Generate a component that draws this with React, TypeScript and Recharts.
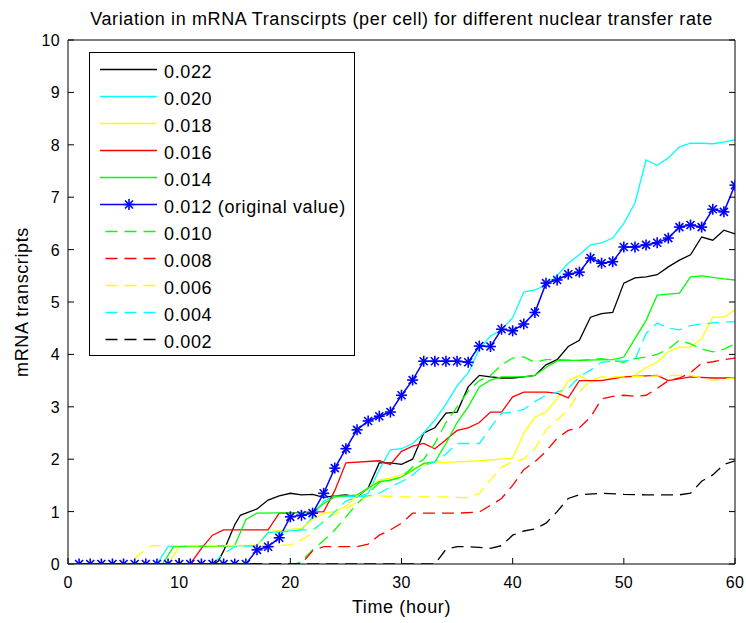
import React from 'react'
import { Legend, Line, LineChart, XAxis, YAxis } from 'recharts'

type Pt = [number, number]

const title = 'Variation in mRNA Transcirpts (per cell) for different nuclear transfer rate'
const xTicks = [0, 10, 20, 30, 40, 50, 60]
const yTicks = [0, 1, 2, 3, 4, 5, 6, 7, 8, 9, 10]

const rate022: Pt[] = [
    [1, 0], [13, 0], [13.5, 0.05], [14, 0.25], [15, 0.75], [15.5, 0.93], [16, 0.97], [17, 1.05],
    [18, 1.22], [19, 1.3], [20, 1.35], [21, 1.32], [22, 1.33], [23, 1.27], [24, 1.3], [25, 1.32],
    [26, 1.28], [27, 1.45], [28, 1.93], [29, 1.93], [30, 1.9], [31, 2.0], [32, 2.5], [33, 2.6],
    [34, 2.88], [35, 2.9], [36, 3.38], [37, 3.6], [38, 3.57], [39, 3.55], [40, 3.55], [41, 3.57],
    [42, 3.6], [43, 3.8], [44, 3.9], [45, 4.15], [46, 4.27], [47, 4.71], [48, 4.78], [49, 4.8],
    [50, 5.36], [51, 5.46], [52, 5.48], [53, 5.52], [54, 5.67], [55, 5.8], [56, 5.9], [57, 6.24],
    [58, 6.18], [59, 6.37], [60, 6.3],
]

const rate020: Pt[] = [
    [1, 0], [8, 0], [9, 0.33], [17, 0.35], [18, 0.6], [21, 0.65], [22, 0.9], [23, 1.2], [24, 1.3],
    [26, 1.28], [27, 1.35], [28, 1.8], [29, 2.18], [30, 2.2], [31, 2.3], [32, 2.5], [33, 2.75],
    [34, 3.05], [35, 3.4], [36, 3.65], [37, 4.1], [38, 4.35], [39, 4.47], [40, 4.7], [41, 5.19],
    [42, 5.23], [43, 5.32], [44, 5.5], [45, 5.74], [46, 5.9], [47, 6.09], [48, 6.13], [49, 6.22],
    [50, 6.5], [51, 6.89], [52, 7.71], [53, 7.61], [54, 7.75], [55, 7.96], [56, 8.03], [57, 8.03],
    [58, 8.02], [59, 8.05], [60, 8.1],
]

const rate018: Pt[] = [
    [1, 0], [9, 0], [10, 0.33], [17, 0.35], [18, 0.62], [21, 0.68], [22, 0.85], [23, 0.97],
    [24, 1.0], [25, 1.1], [26, 1.3], [27, 1.45], [28, 1.6], [29, 1.64], [30, 1.7], [31, 1.8],
    [32, 1.9], [33, 1.93], [35, 1.95], [37, 1.97], [40, 2.02], [41, 2.5], [42, 2.8], [43, 2.9],
    [44, 3.15], [45, 3.5], [46, 3.6], [47, 3.47], [49, 3.55], [51, 3.6], [52, 3.75], [53, 3.85],
    [54, 4.05], [55, 4.14], [56, 4.14], [57, 4.3], [58, 4.71], [59, 4.71], [60, 4.85],
]

const rate016: Pt[] = [
    [1, 0], [11, 0], [12, 0.3], [13, 0.55], [14, 0.65], [18, 0.65], [19, 0.97], [22, 0.99],
    [23, 1.0], [24, 1.4], [25, 1.93], [28, 1.97], [29, 1.9], [30, 2.15], [31, 2.25], [32, 2.3],
    [33, 2.2], [34, 2.37], [35, 2.55], [36, 2.6], [37, 2.7], [38, 2.9], [39, 2.9], [40, 3.19],
    [41, 3.28], [43, 3.28], [44, 3.26], [45, 3.17], [46, 3.5], [48, 3.5], [50, 3.57], [53, 3.6],
    [54, 3.5], [56, 3.57], [58, 3.55], [60, 3.55],
]

const rate014: Pt[] = [
    [1, 0], [8.5, 0], [9.5, 0.33], [15, 0.35], [16, 0.85], [17, 0.97], [21, 0.98], [22, 1.0],
    [23, 1.15], [24, 1.28], [25, 1.3], [26, 1.32], [27, 1.45], [28, 1.57], [29, 1.6], [30, 1.66],
    [31, 1.79], [32, 1.92], [33, 1.95], [34, 2.3], [35, 2.7], [36, 3.0], [37, 3.38], [38, 3.51],
    [39, 3.57], [41, 3.57], [42, 3.6], [43, 3.75], [44, 3.88], [49, 3.9], [50, 3.95], [51, 4.3],
    [52, 4.65], [53, 5.13], [55, 5.17], [56, 5.48], [57, 5.5], [59, 5.44], [60, 5.42],
]

const rate012: Pt[] = [
    [1, 0], [2, 0], [3, 0], [4, 0], [5, 0], [6, 0], [7, 0], [8, 0], [9, 0], [10, 0],
    [11, 0], [12, 0], [13, 0], [14, 0], [15, 0], [16, 0], [17, 0.27], [18, 0.33], [19, 0.5],
    [20, 0.9], [21, 0.93], [22, 0.97], [23, 1.35], [24, 1.83], [25, 2.2], [26, 2.56], [27, 2.73],
    [28, 2.82], [29, 2.9], [30, 3.22], [31, 3.51], [32, 3.87], [33, 3.87], [34, 3.87], [35, 3.87],
    [36, 3.85], [37, 4.16], [38, 4.15], [39, 4.48], [40, 4.45], [41, 4.58], [42, 4.8], [43, 5.36],
    [44, 5.42], [45, 5.53], [46, 5.57], [47, 5.84], [48, 5.74], [49, 5.77], [50, 6.05], [51, 6.05],
    [52, 6.09], [53, 6.13], [54, 6.22], [55, 6.43], [56, 6.47], [57, 6.43], [58, 6.77], [59, 6.72],
    [60, 7.23],
]

const rate010: Pt[] = [
    [1, 0], [20.5, 0], [21, 0.05], [22, 0.27], [23, 0.45], [24, 0.65], [25, 0.9], [26, 1.15],
    [27, 1.35], [28, 1.55], [29, 1.6], [30, 1.65], [31, 1.85], [32, 2.0], [33, 2.3], [34, 2.7],
    [35, 3.0], [36, 3.3], [37, 3.5], [38, 3.6], [39, 3.8], [40, 3.93], [41, 3.95], [42, 3.85],
    [43, 3.9], [44, 3.9], [46, 3.88], [48, 3.92], [50, 3.85], [51, 3.92], [52, 3.95], [53, 4.0],
    [54, 4.1], [55, 4.27], [56, 4.2], [57, 4.1], [58, 4.05], [59, 4.1], [60, 4.2],
]

const rate008: Pt[] = [
    [1, 0], [21, 0], [22, 0.25], [23, 0.33], [26, 0.33], [27, 0.38], [28, 0.55], [29, 0.65],
    [30, 0.78], [31, 0.97], [35, 0.97], [37, 0.99], [38, 1.12], [39, 1.25], [40, 1.5], [41, 1.8],
    [42, 1.95], [43, 2.15], [44, 2.4], [45, 2.55], [46, 2.6], [47, 2.8], [48, 3.15], [49, 3.2],
    [50, 3.22], [51, 3.2], [52, 3.22], [53, 3.35], [54, 3.5], [55, 3.55], [56, 3.65], [57, 3.83],
    [58, 3.86], [59, 3.9], [60, 3.93],
]

const rate006: Pt[] = [
    [1, 0], [5.5, 0], [6.5, 0.2], [7.5, 0.35], [20, 0.36], [21, 0.46], [22, 0.59], [23, 0.84],
    [24, 0.95], [25, 1.05], [26, 1.18], [27, 1.3], [28, 1.3], [30, 1.28], [34, 1.28], [36, 1.26],
    [37, 1.35], [38, 1.6], [39, 1.85], [40, 1.95], [41, 2.0], [42, 2.2], [43, 2.56], [44, 2.75],
    [45, 2.95], [46, 3.28], [47, 3.5], [48, 3.57], [50, 3.57], [52, 3.58], [54, 3.6], [56, 3.6],
    [57, 3.55], [58, 3.51], [60, 3.55],
]

const rate004: Pt[] = [
    [1, 0], [13, 0], [14, 0.2], [15, 0.33], [17, 0.35], [18, 0.6], [20, 0.62], [21, 0.65],
    [22, 0.65], [23, 0.8], [24, 1.0], [25, 1.2], [26, 1.28], [27, 1.3], [28, 1.35], [29, 1.47],
    [30, 1.57], [31, 1.7], [32, 1.88], [33, 1.95], [34, 2.1], [35, 2.3], [36, 2.3], [37, 2.3],
    [38, 2.6], [39, 2.88], [40, 2.9], [41, 2.95], [42, 3.1], [43, 3.22], [44, 3.28], [45, 3.35],
    [46, 3.57], [47, 3.7], [48, 3.85], [49, 3.87], [50, 3.87], [51, 3.9], [52, 4.4], [53, 4.6],
    [54, 4.5], [55, 4.47], [56, 4.55], [57, 4.58], [58, 4.6], [59, 4.62], [60, 4.62],
]

const rate002: Pt[] = [
    [1, 0], [33, 0], [34, 0.28], [35, 0.33], [36, 0.33], [38, 0.3], [39, 0.35], [40, 0.55],
    [41, 0.63], [42, 0.67], [43, 0.78], [44, 1.0], [45, 1.25], [46, 1.32], [48, 1.35], [50, 1.33],
    [52, 1.32], [55, 1.32], [56, 1.35], [57, 1.58], [58, 1.7], [59, 1.9], [60, 1.97],
]

const series = [
    { name: '0.022', points: rate022, color: '#000000', dashed: false, star: false },
    { name: '0.020', points: rate020, color: '#00ffff', dashed: false, star: false },
    { name: '0.018', points: rate018, color: '#ffff00', dashed: false, star: false },
    { name: '0.016', points: rate016, color: '#ff0000', dashed: false, star: false },
    { name: '0.014', points: rate014, color: '#00ff00', dashed: false, star: false },
    { name: '0.012 (original value)', points: rate012, color: '#0000ff', dashed: false, star: true },
    { name: '0.010', points: rate010, color: '#00ff00', dashed: true, star: false },
    { name: '0.008', points: rate008, color: '#ff0000', dashed: true, star: false },
    { name: '0.006', points: rate006, color: '#ffff00', dashed: true, star: false },
    { name: '0.004', points: rate004, color: '#00ffff', dashed: true, star: false },
    { name: '0.002', points: rate002, color: '#000000', dashed: true, star: false },
]

const font = '"Liberation Sans", Arial, Helvetica, sans-serif'
const textStyle = { fontFamily: font, fontSize: 18, letterSpacing: 0.62, fill: '#000' }
const tickStyle = { fontFamily: font, fontSize: 16, letterSpacing: 0.3, fill: '#000' }

const Star = ({ cx, cy, color = '#0000ff' }: any) => {
    if (cx == null || cy == null) return null
    const r = 5.5
    const d = 4
    return (
        <g stroke={color} strokeWidth={1.6}>
            <line x1={cx - r} y1={cy} x2={cx + r} y2={cy} />
            <line x1={cx} y1={cy - r} x2={cx} y2={cy + r} />
            <line x1={cx - d} y1={cy - d} x2={cx + d} y2={cy + d} />
            <line x1={cx - d} y1={cy + d} x2={cx + d} y2={cy - d} />
        </g>
    )
}

const BottomTick = ({ x, y, payload }: any) => (
    <g>
        <line x1={x} y1={y} x2={x} y2={y - 6} stroke="#000" />
        <text x={x} y={y + 24} textAnchor="middle" style={tickStyle}>
            {payload.value}
        </text>
    </g>
)

const TopTick = ({ x, y }: any) => <line x1={x} y1={y} x2={x} y2={y + 6} stroke="#000" />

const LeftTick = ({ x, y, payload }: any) => (
    <g>
        <line x1={x} y1={y} x2={x + 6} y2={y} stroke="#000" />
        <text x={x - 8} y={y + 6} textAnchor="end" style={tickStyle}>
            {payload.value}
        </text>
    </g>
)

const RightTick = ({ x, y }: any) => <line x1={x} y1={y} x2={x - 6} y2={y} stroke="#000" />

const LegendBox = () => (
    <svg width={269} height={306} style={{ display: 'block' }}>
        <rect x={1.5} y={0.5} width={265} height={303} fill="#fff" stroke="#000" />
        {series.map((s, i) => {
            const y = Math.round(17 + i * 27.03) + 0.5
            return (
                <g key={s.name}>
                    <line
                        x1={s.dashed ? 17.5 : 12}
                        x2={69}
                        y1={y}
                        y2={y}
                        stroke={s.color}
                        strokeWidth={1.4}
                        strokeDasharray={s.dashed ? '12 7' : undefined}
                    />
                    {s.star && <Star cx={41} cy={y} />}
                    <text x={76} y={y + 8.5} style={textStyle}>
                        {s.name}
                    </text>
                </g>
            )
        })}
    </svg>
)

export default function App() {
    return (
        <div style={{ position: 'absolute', left: 0, top: 0, background: '#fff' }}>
            <LineChart width={746} height={623} margin={{ top: 0, right: 0, bottom: 0, left: 8 }}>
                <XAxis
                    xAxisId="b"
                    dataKey="t"
                    type="number"
                    domain={[0, 60]}
                    ticks={xTicks}
                    allowDataOverflow
                    height={59}
                    tickSize={0}
                    tickMargin={0}
                    tickLine={false}
                    tick={<BottomTick />}
                    axisLine={{ stroke: '#000' }}
                    label={{ value: 'Time (hour)', position: 'insideBottom', offset: 10, style: textStyle }}
                />
                <XAxis
                    xAxisId="t"
                    orientation="top"
                    type="number"
                    domain={[0, 60]}
                    ticks={xTicks}
                    allowDataOverflow
                    height={40}
                    tickSize={0}
                    tickMargin={0}
                    tickLine={false}
                    tick={<TopTick />}
                    axisLine={{ stroke: '#000' }}
                    label={{ value: title, position: 'insideTop', offset: 12, style: textStyle }}
                />
                <YAxis
                    yAxisId="l"
                    type="number"
                    domain={[0, 10]}
                    ticks={yTicks}
                    allowDataOverflow
                    width={60}
                    tickSize={0}
                    tickMargin={0}
                    tickLine={false}
                    tick={<LeftTick />}
                    axisLine={{ stroke: '#000' }}
                    label={{
                        value: 'mRNA transcripts',
                        angle: -90,
                        position: 'insideLeft',
                        offset: 14,
                        style: { ...textStyle, textAnchor: 'middle' },
                    }}
                />
                <YAxis
                    yAxisId="r"
                    orientation="right"
                    type="number"
                    domain={[0, 10]}
                    ticks={yTicks}
                    allowDataOverflow
                    width={11}
                    tickSize={0}
                    tickMargin={0}
                    tickLine={false}
                    tick={<RightTick />}
                    axisLine={{ stroke: '#000' }}
                />
                {series.map((s) => (
                    <Line
                        key={s.name}
                        xAxisId="b"
                        yAxisId="l"
                        data={s.points.map(([t, v]) => ({ t, v }))}
                        dataKey="v"
                        name={s.name}
                        type="linear"
                        stroke={s.color}
                        strokeWidth={s.star ? 1.5 : 1.3}
                        strokeDasharray={s.dashed ? '12 7' : undefined}
                        dot={s.star ? <Star /> : false}
                        activeDot={false}
                        isAnimationActive={false}
                    />
                ))}
                <Legend
                    layout="horizontal"
                    verticalAlign="middle"
                    align="center"
                    content={() => <LegendBox />}
                    wrapperStyle={{ position: 'absolute', left: 88, top: 52, width: 269, height: 306 }}
                />
            </LineChart>
        </div>
    )
}
